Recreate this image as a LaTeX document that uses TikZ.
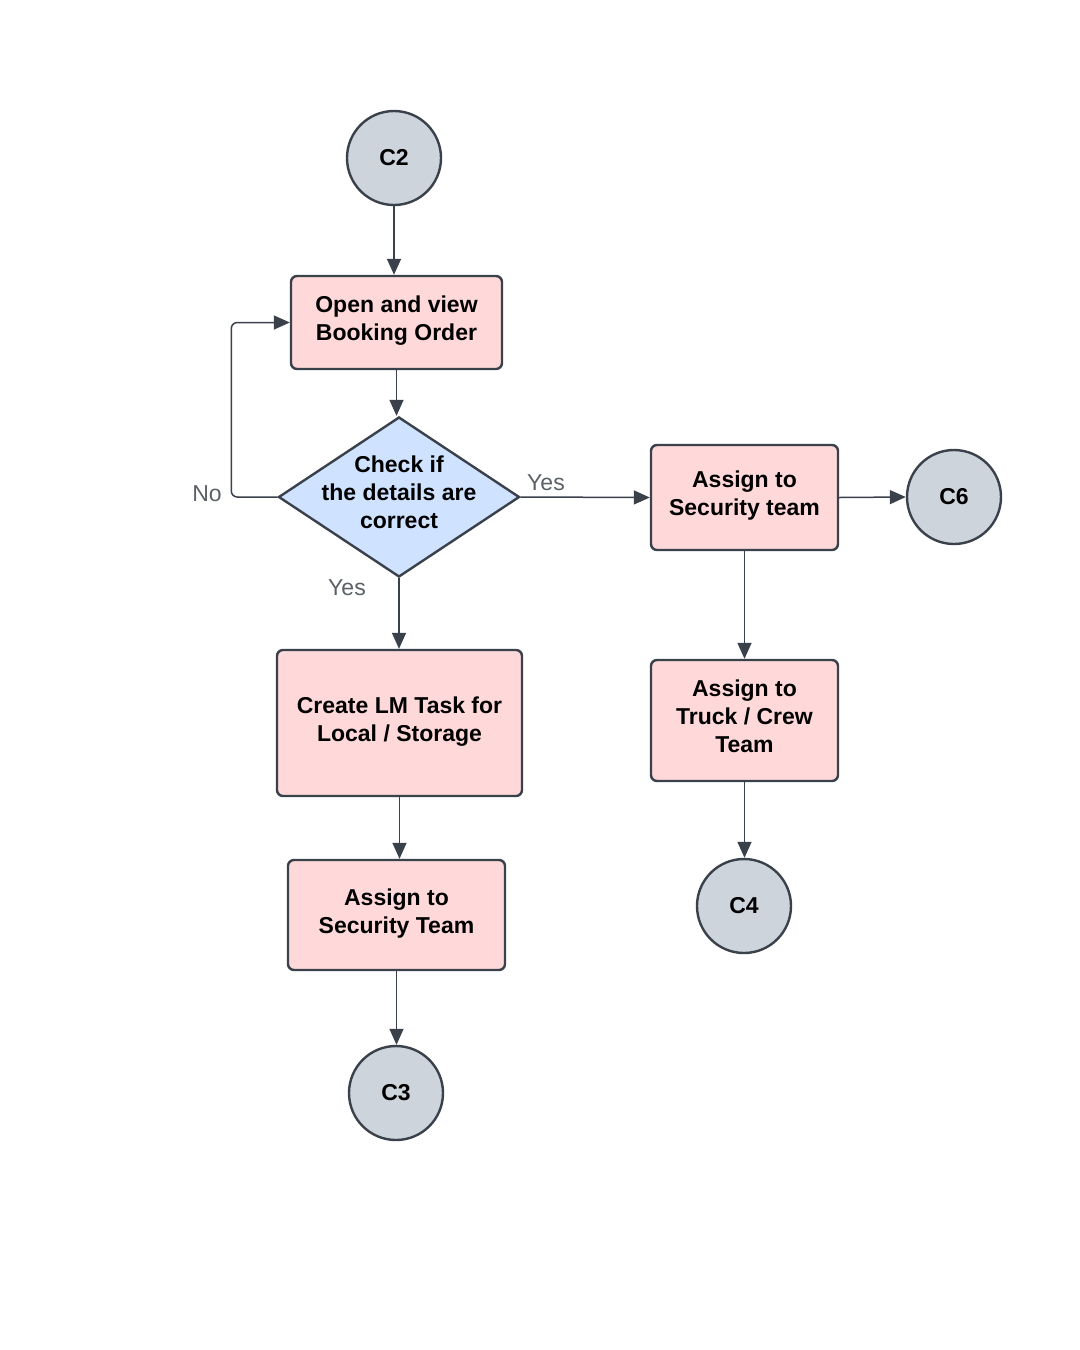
\documentclass[tikz,border=0pt]{standalone}
\usepackage{fontspec}
\setmainfont{Liberation Sans}
\usetikzlibrary{shapes.geometric,arrows.meta}
\definecolor{boxpink}{HTML}{FFD9D9}
\definecolor{decblue}{HTML}{CFE2FF}
\definecolor{termgray}{HTML}{CED4DC}
\definecolor{edgegray}{HTML}{3A414A}
\definecolor{labelgray}{HTML}{5C6168}

\begin{document}
\begin{tikzpicture}[x=0.5pt,y=-0.5pt,
  every node/.style={align=center,inner sep=0pt,text=black,
    font=\fontsize{11.5}{14}\selectfont\bfseries},
  task/.style={draw=edgegray,line width=1.2pt,fill=boxpink,rounded corners=3pt,rectangle,
    text depth=4pt},
  decision/.style={draw=edgegray,line width=1.2pt,fill=decblue,diamond,shape aspect=1.5,
    inner sep=-5pt,text depth=5pt,minimum width=120.5pt,minimum height=80pt},
  term/.style={draw=edgegray,line width=1.2pt,fill=termgray,circle,minimum size=47pt},
  flow/.style={draw=edgegray,line width=0.75pt,-{Triangle[length=8pt,width=7pt]}},
  lbl/.style={text=labelgray,font=\fontsize{11.5}{14}\selectfont}]
  \useasboundingbox (0,0) rectangle (1080,1350);
  \fill[white] (0,0) rectangle (1080,1350);

  % left column
  \node[term] (c2) at (394,158) {C2};
  \node[task,minimum width=105.5pt,minimum height=46.5pt] (open) at (396.5,322.5) {Open and view\\Booking Order};
  \node[decision] (check) at (399,497) {Check if\\the details are\\correct};
  \node[task,minimum width=122.5pt,minimum height=73pt] (create) at (399.5,723) {Create LM Task for\\Local / Storage};
  \node[task,minimum width=108.5pt,minimum height=55pt] (secleft) at (396.5,915) {Assign to\\Security Team};
  \node[term] (c3) at (396,1093) {C3};

  % right column
  \node[task,minimum width=93.5pt,minimum height=52.5pt] (secright) at (744.5,497.5) {Assign to\\Security team};
  \node[term] (c6) at (954,497) {C6};
  \node[task,minimum width=93.5pt,minimum height=60.5pt] (truck) at (744.5,720.5) {Assign to\\Truck / Crew\\Team};
  \node[term] (c4) at (744,906) {C4};

  % labels
  \node[lbl] (nolbl) at (207,494) {No};
  \node[lbl] (yesright) at (546,483) {Yes};
  \node[lbl] (yesdown) at (347,588) {Yes};

  \draw[flow] (c2.south) -- (c2.south |- open.north);
  \draw[flow] (open.south) -- (open.south |- check.north);
  \draw[flow] (check.east) -- (secright.west);
  \draw[flow] (secright.east) -- (c6.west);
  \draw[flow] (secright.south) -- (secright.south |- truck.north);
  \draw[flow] (truck.south) -- (truck.south |- c4.north);
  \draw[flow] (check.south) -- (check.south |- create.north);
  \draw[flow] (create.south) -- (create.south |- secleft.north);
  \draw[flow] (secleft.south) -- (secleft.south |- c3.north);
  \draw[flow,rounded corners=3pt] (check.west) -- ++(-46,0) |- (open.west);
\end{tikzpicture}
\end{document}
